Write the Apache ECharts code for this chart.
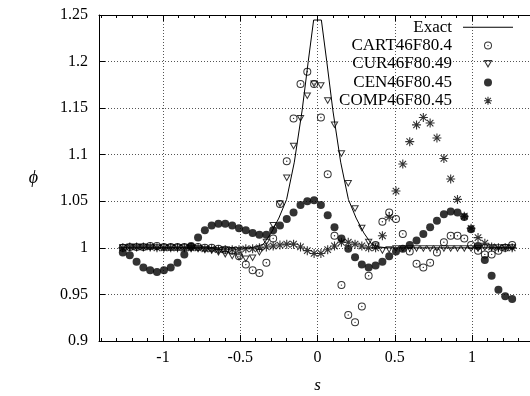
<!DOCTYPE html>
<html><head><meta charset="utf-8">
<script src="https://cdn.jsdelivr.net/npm/echarts@6/dist/echarts.min.js"></script>
<style>html,body{margin:0;padding:0;background:#fff}#c{width:530px;height:396px}</style>
</head><body><div id="c"></div>
<script>
// sample positions s (cell centres)
const sVals = [-1.260,-1.215,-1.171,-1.127,-1.083,-1.039,-0.994,-0.950,-0.906,-0.862,
  -0.818,-0.773,-0.729,-0.685,-0.641,-0.597,-0.552,-0.508,-0.464,-0.420,
  -0.376,-0.331,-0.287,-0.243,-0.199,-0.155,-0.110,-0.066,-0.022,0.022,
  0.066,0.110,0.155,0.199,0.243,0.287,0.331,0.376,0.420,0.464,
  0.508,0.552,0.597,0.641,0.685,0.729,0.773,0.818,0.862,0.906,
  0.950,0.994,1.039,1.083,1.127,1.171,1.215,1.260];

const cartVals = [1.000,1.001,1.001,1.001,1.002,1.002,1.001,1.001,1.001,1.001,
  1.001,1.001,1.000,1.000,0.999,0.998,0.997,0.991,0.982,0.976,
  0.973,0.984,1.010,1.047,1.093,1.139,1.176,1.189,1.176,1.140,
  1.079,1.013,0.960,0.928,0.920,0.937,0.970,1.003,1.028,1.038,
  1.031,1.015,0.996,0.983,0.979,0.984,0.995,1.006,1.013,1.013,
  1.010,1.003,0.997,0.993,0.993,0.997,1.000,1.003];

const curVals = [1.000,1.000,1.000,1.000,1.000,1.000,1.000,1.000,1.000,1.000,
  0.999,0.999,0.998,0.997,0.995,0.993,0.991,0.990,0.988,0.989,
  0.995,1.006,1.024,1.047,1.075,1.109,1.139,1.163,1.176,1.174,
  1.158,1.132,1.101,1.069,1.042,1.021,1.006,1.002,0.997,0.998,
  0.999,0.999,0.999,0.999,0.999,0.999,0.999,0.999,0.999,0.999,
  0.999,0.999,0.999,1.000,1.000,1.000,1.000,1.000];

const cenVals = [0.995,0.992,0.985,0.979,0.976,0.974,0.976,0.979,0.984,0.993,
  1.002,1.011,1.019,1.024,1.026,1.026,1.024,1.021,1.019,1.016,
  1.014,1.014,1.019,1.024,1.031,1.038,1.046,1.050,1.051,1.046,
  1.035,1.022,1.010,0.999,0.990,0.982,0.979,0.981,0.985,0.991,
  0.996,0.999,1.003,1.008,1.015,1.022,1.029,1.036,1.039,1.038,
  1.033,1.020,1.002,0.987,0.970,0.955,0.948,0.945];

const compVals = [1.000,1.001,1.001,1.001,1.001,1.000,1.000,1.000,1.000,1.000,
  1.000,1.000,0.999,0.999,0.998,0.998,0.998,0.998,0.999,0.999,
  1.000,1.001,1.002,1.003,1.004,1.004,1.001,0.997,0.994,0.994,
  0.998,1.002,1.006,1.006,1.004,1.002,1.000,1.000,1.013,1.033,
  1.061,1.090,1.114,1.132,1.140,1.134,1.118,1.096,1.074,1.052,
  1.034,1.021,1.011,1.005,1.001,1.000,1.000,1.000];

// exact solution polyline
const exactS = [-1.282,-0.45,-0.40,-0.35,-0.30,-0.25,-0.20,-0.15,-0.10,-0.06,-0.025,
  0.025,0.06,0.10,0.15,0.20,0.25,0.30,0.35,0.40,0.45,1.282];
const exactV = [1.000,1.000,1.001,1.004,1.016,1.032,1.052,1.092,1.147,1.200,1.2446,
  1.2446,1.200,1.147,1.092,1.052,1.032,1.016,1.004,1.001,1.000,1.000];

const seriesNames = ['Exact','CART46F80.4','CUR46F80.49','CEN46F80.45','COMP46F80.45'];
const xTicks = [-1,-0.5,0,0.5,1];
const xRange = [-1.41421, 1.41421];
const xMinorRange = [-1.4, 1.4];
const xMinorStep = 0.1;
const yRange = [0.9, 1.25];
const yStep = 0.05;

const FONT = 'Liberation Serif';
const pair = (xs, ys) => xs.map((x, i) => [x, ys[i]]);

const SYM_CART = 'path://M0,-4A4,4 0 1,0 0,4A4,4 0 1,0 0,-4Z M0,-3A3,3 0 1,1 0,3A3,3 0 1,1 0,-3Z M0,-0.7A0.7,0.7 0 1,0 0,0.7A0.7,0.7 0 1,0 0,-0.7Z';
const SYM_CUR = 'path://M-4,-3L4,-3L0,4Z M-2.28,-2L0,1.98L2.28,-2Z';
const SYM_COMP = 'path://M-4,0L4,0M0,-4L0,4M-2.9,-2.9L2.9,2.9M-2.9,2.9L2.9,-2.9';
const SYM_LINE = 'path://M0,0L50,0L50,1L0,1Z';

// plot box: s from -sqrt2 (x=99) to +sqrt2 (x=536, beyond the canvas)
const PX_PER_UNIT = 437 / (xRange[1] - xRange[0]);
const gridMain = {left: 99, top: 15, bottom: 55, right: -6, containLabel: false, outerBoundsMode: 'none'};
const gridMinor = {left: 99 + (xMinorRange[0] - xRange[0]) * PX_PER_UNIT, top: 15, bottom: 55,
  right: -6 + (xRange[1] - xMinorRange[1]) * PX_PER_UNIT, containLabel: false, outerBoundsMode: 'none'};
const splitStyle = {show: true, lineStyle: {color: '#555', width: 1, type: [1, 2]}};

const chart = echarts.init(document.getElementById('c'), null, {renderer: 'canvas'});
chart.setOption({
  animation: false,
  backgroundColor: '#fff',
  textStyle: {fontFamily: FONT, color: '#000'},
  grid: [gridMain, gridMinor],
  xAxis: [
    {gridIndex: 0, type: 'value', position: 'bottom', min: xRange[0], max: xRange[1],
     axisLine: {show: true, onZero: false, lineStyle: {color: '#000', width: 1}},
     axisTick: {show: true, inside: true, length: 6, customValues: xTicks, lineStyle: {color: '#000'}},
     axisLabel: {show: true, customValues: xTicks, color: '#000', fontFamily: FONT, fontSize: 16, margin: 9},
     splitLine: splitStyle,
     name: 's', nameLocation: 'middle', nameGap: 36,
     nameTextStyle: {fontFamily: FONT, fontStyle: 'italic', fontSize: 17, color: '#000'}},
    {gridIndex: 0, type: 'value', position: 'top', min: xRange[0], max: xRange[1],
     axisLine: {show: true, onZero: false, lineStyle: {color: '#000', width: 1}},
     axisTick: {show: true, inside: true, length: 6, customValues: xTicks, lineStyle: {color: '#000'}},
     axisLabel: {show: false}, splitLine: {show: false}},
    {gridIndex: 1, type: 'value', position: 'bottom', min: xMinorRange[0], max: xMinorRange[1], interval: xMinorStep,
     axisLine: {show: false},
     axisTick: {show: true, inside: true, length: 3, lineStyle: {color: '#000'}},
     axisLabel: {show: false}, splitLine: {show: false}},
    {gridIndex: 1, type: 'value', position: 'top', min: xMinorRange[0], max: xMinorRange[1], interval: xMinorStep,
     axisLine: {show: false},
     axisTick: {show: true, inside: true, length: 3, lineStyle: {color: '#000'}},
     axisLabel: {show: false}, splitLine: {show: false}}
  ],
  yAxis: [
    {gridIndex: 0, type: 'value', position: 'left', min: yRange[0], max: yRange[1], interval: yStep,
     axisLine: {show: true, onZero: false, lineStyle: {color: '#000', width: 1}},
     axisTick: {show: true, inside: true, length: 6, lineStyle: {color: '#000'}},
     axisLabel: {color: '#000', fontFamily: FONT, fontSize: 16, margin: 11},
     splitLine: splitStyle,
     name: '\u03D5', nameLocation: 'middle', nameGap: 61, nameRotate: 0,
     nameTextStyle: {fontFamily: 'Liberation Serif, DejaVu Serif', fontStyle: 'italic', fontSize: 18, color: '#000'}},
    {gridIndex: 1, type: 'value', min: yRange[0], max: yRange[1], show: false}
  ],
  legend: {
    show: true, orient: 'vertical', align: 'right', right: 17, top: 18, padding: 0,
    itemWidth: 50, itemHeight: 8, itemGap: 0, selectedMode: false,
    symbolKeepAspect: true,
    textStyle: {fontFamily: FONT, fontSize: 17, color: '#000', lineHeight: 18.4, padding: [0, 6, 0, 0]},
    data: [
      {name: seriesNames[0], icon: SYM_LINE, itemStyle: {color: '#000', borderWidth: 0}},
      {name: seriesNames[1], itemStyle: {borderWidth: 0}},
      {name: seriesNames[2], itemStyle: {borderWidth: 0}},
      {name: seriesNames[3], itemStyle: {borderWidth: 0}},
      {name: seriesNames[4], itemStyle: {borderWidth: 1.1, borderColor: '#000'}}
    ]
  },
  series: [
    {name: seriesNames[0], type: 'line', xAxisIndex: 0, yAxisIndex: 0, data: pair(exactS, exactV),
     symbol: 'none', showSymbol: false, lineStyle: {color: '#000', width: 1}, itemStyle: {color: '#000'}},
    {name: seriesNames[1], type: 'scatter', xAxisIndex: 0, yAxisIndex: 0, data: pair(sVals, cartVals),
     symbol: SYM_CART, symbolSize: 8, itemStyle: {color: '#000', borderWidth: 0}},
    {name: seriesNames[2], type: 'scatter', xAxisIndex: 0, yAxisIndex: 0, data: pair(sVals, curVals),
     symbol: SYM_CUR, symbolSize: [8, 7], itemStyle: {color: '#000', borderWidth: 0}},
    {name: seriesNames[3], type: 'scatter', xAxisIndex: 0, yAxisIndex: 0, data: pair(sVals, cenVals),
     symbol: 'circle', symbolSize: 8, itemStyle: {color: '#000', borderWidth: 0}},
    {name: seriesNames[4], type: 'scatter', xAxisIndex: 0, yAxisIndex: 0, data: pair(sVals, compVals),
     symbol: SYM_COMP, symbolSize: 9, itemStyle: {color: '#000', borderColor: '#000', borderWidth: 1.1}}
  ]
});
</script></body></html>
